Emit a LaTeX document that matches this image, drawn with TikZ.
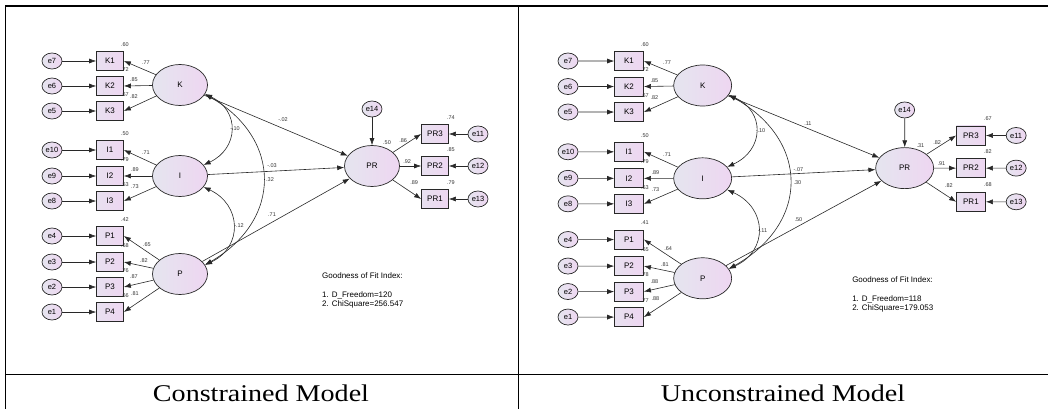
\documentclass[tikz,border=0pt]{standalone}
\usepackage{fontspec}
\setmainfont{Liberation Serif}
\newfontfamily\amosfont{Liberation Sans}
\usetikzlibrary{shapes.geometric, arrows.meta}

\definecolor{lavL}{RGB}{229,229,239}
\definecolor{lavR}{RGB}{238,214,241}
\definecolor{lineC}{RGB}{40,40,40}

\begin{document}
\begin{tikzpicture}[x=1pt, y=-1pt,
  lat/.style={ellipse, draw=lineC, line width=.7pt, minimum width=55pt, minimum height=41pt, inner sep=0pt,
    left color=lavL, right color=lavR, font=\amosfont\fontsize{8}{8}\selectfont},
  err/.style={ellipse, draw=lineC, line width=.7pt, minimum width=20pt, minimum height=16pt, inner sep=0pt,
    left color=lavL, right color=lavR, font=\amosfont\fontsize{7.5}{7.5}\selectfont},
  obs/.style={rectangle, draw=lineC, line width=.7pt, minimum width=27pt, minimum height=19pt, inner sep=0pt,
    left color=lavL!70!lavR, right color=lavR, font=\amosfont\fontsize{8}{8}\selectfont},
  coef/.style={inner sep=0pt, font=\amosfont\fontsize{5.5}{5.5}\selectfont, text=black!80},
  reg/.style={draw=lineC, line width=.6pt, -{Latex[length=7pt,width=5pt]}},
  cov/.style={draw=lineC, line width=.6pt, {Latex[length=7pt,width=5pt]}-{Latex[length=7pt,width=5pt]}},
  gof/.style={anchor=north west, align=left, inner sep=0pt, font=\amosfont\fontsize{8}{9.3}\selectfont},
  modelname/.style={font=\fontsize{24}{24}\selectfont, xscale=1.17, transform shape}]
\useasboundingbox (0,0) rectangle (1048,409);
% table frame
\draw[line width=1.4pt] (5,6) -- (1048,6);
\draw[line width=.8pt] (5,6) -- (5,409) (518,6) -- (518,409) (5,374) -- (1048,374);
\node[modelname] (capC) at (261,393) {Constrained Model};
\node[modelname] (capU) at (783,393) {Unconstrained Model};

% constrained model
\begin{scope}[name prefix=c-]
  \node[lat] (K) at (180,85) {K};
  \node[lat] (I) at (180,176) {I};
  \node[lat] (P) at (180,274) {P};
  \node[lat] (PR) at (372,166) {PR};
  \node[err] (e14) at (372,109) {e14};
  \draw[reg] (e14) -- (PR);
  \foreach \bx/\er/\yy/\lt/\rsq/\ld/\dx/\dy in {K1/e7/61/K/.60/.77/22/2, K2/e6/86/K/.72/.85/10/-6, K3/e5/111/K/.67/.82/10/-14,
      I1/e10/150/I/.50/.71/22/3, I2/e9/176/I/.79/.89/11/-6, I3/e8/201/I/.53/.73/11/-14,
      P1/e4/236/P/.42/.65/23/9, P2/e3/262/P/.68/.82/20/-1, P3/e2/287/P/.76/.87/10/-10, P4/e1/312/P/.66/.81/11/-18}{
    \node[obs] (\bx) at (110,\yy) {\bx};
    \node[err] (\er) at (52,\yy) {\er};
    \draw[reg] (\er) -- (\bx);
    \draw[reg] (\lt) -- (\bx.east);
    \path (\bx.north east) ++(1,-6.5) node[coef] (r\bx) {\rsq};
    \path (\bx.east) ++(\dx,\dy) node[coef] (l\bx) {\ld};
  }
  \foreach \bx/\er/\yy/\rsq/\ld/\dx/\dy in {PR3/e11/134/.74/.86/-18/7, PR2/e12/166/.85/.92/-14/-4, PR1/e13/199/.79/.89/-7/-16}{
    \node[obs] (\bx) at (435,\yy) {\bx};
    \node[err] (\er) at (478,\yy) {\er};
    \draw[reg] (\er) -- (\bx);
    \draw[reg] (PR) -- (\bx.west);
    \path (\bx.north east) ++(2,-7) node[coef] (r\bx) {\rsq};
    \path (\bx.west) ++(\dx,\dy) node[coef] (l\bx) {\ld};
  }
  \draw[reg] (K) -- (PR);
  \draw[reg] (I) -- (PR);
  \draw[reg] (P) -- (PR);
  \draw[cov] (K.-20) to[out=-25, in=25, looseness=1.4] (I.25);
  \draw[cov] (I.-25) to[out=-25, in=25, looseness=1.38] (P.20);
  \draw[cov] (K.-20) to[out=-30, in=30, looseness=1.34] (P.20);
  \node[coef] (kpr) at (283,120) {-.02};
  \node[coef] (ipr) at (272,166) {-.03};
  \node[coef] (ppr) at (272,215) {.71};
  \node[coef] (ki) at (235,129) {-.10};
  \node[coef] (ip) at (239,226) {-.12};
  \node[coef] (kp) at (270,180) {.32};
  \node[coef] (rPR) at (387,143) {.50};
  \node[gof] (fit) at (322,272.5) {Goodness of Fit Index:\\[9.3pt]1. D\_Freedom=120\\2. ChiSquare=256.547};
\end{scope}

% unconstrained model
\begin{scope}[name prefix=u-, shift={(513.3,-1.2)}, xscale=1.052, yscale=1.02,
    lat/.append style={minimum width=58pt}, obs/.append style={minimum width=29pt}]
  \node[lat] (K) at (180,85) {K};
  \node[lat] (I) at (180,176) {I};
  \node[lat] (P) at (180,274) {P};
  \node[lat] (PR) at (372,166) {PR};
  \node[err] (e14) at (372,109) {e14};
  \draw[reg] (e14) -- (PR);
  \foreach \bx/\er/\yy/\lt/\rsq/\ld/\dx/\dy in {K1/e7/61/K/.60/.77/22/2, K2/e6/86/K/.72/.85/10/-6, K3/e5/111/K/.67/.82/10/-14,
      I1/e10/150/I/.50/.71/22/3, I2/e9/176/I/.79/.89/11/-6, I3/e8/201/I/.53/.73/11/-14,
      P1/e4/236/P/.41/.64/23/9, P2/e3/262/P/.65/.81/20/-1, P3/e2/287/P/.78/.88/10/-10, P4/e1/312/P/.77/.88/11/-18}{
    \node[obs] (\bx) at (110,\yy) {\bx};
    \node[err] (\er) at (52,\yy) {\er};
    \draw[reg] (\er) -- (\bx);
    \draw[reg] (\lt) -- (\bx.east);
    \path (\bx.north east) ++(1,-6.5) node[coef] (r\bx) {\rsq};
    \path (\bx.east) ++(\dx,\dy) node[coef] (l\bx) {\ld};
  }
  \foreach \bx/\er/\yy/\rsq/\ld/\dx/\dy in {PR3/e11/134/.67/.82/-18/7, PR2/e12/166/.82/.91/-14/-4, PR1/e13/199/.68/.82/-7/-16}{
    \node[obs] (\bx) at (435,\yy) {\bx};
    \node[err] (\er) at (478,\yy) {\er};
    \draw[reg] (\er) -- (\bx);
    \draw[reg] (PR) -- (\bx.west);
    \path (\bx.north east) ++(2,-7) node[coef] (r\bx) {\rsq};
    \path (\bx.west) ++(\dx,\dy) node[coef] (l\bx) {\ld};
  }
  \draw[reg] (K) -- (PR);
  \draw[reg] (I) -- (PR);
  \draw[reg] (P) -- (PR);
  \draw[cov] (K.-20) to[out=-25, in=25, looseness=1.4] (I.25);
  \draw[cov] (I.-25) to[out=-25, in=25, looseness=1.38] (P.20);
  \draw[cov] (K.-20) to[out=-30, in=30, looseness=1.34] (P.20);
  \node[coef] (kpr) at (280,122) {.11};
  \node[coef] (ipr) at (271,167) {-.07};
  \node[coef] (ppr) at (271,216) {.50};
  \node[coef] (ki) at (235,129) {-.10};
  \node[coef] (ip) at (237,227) {-.11};
  \node[coef] (kp) at (270,180) {.30};
  \node[coef] (rPR) at (387,144) {.31};
  \node[gof] (fit) at (322,272.5) {Goodness of Fit Index:\\[9.3pt]1. D\_Freedom=118\\2. ChiSquare=179.053};
\end{scope}
\end{tikzpicture}
\end{document}
